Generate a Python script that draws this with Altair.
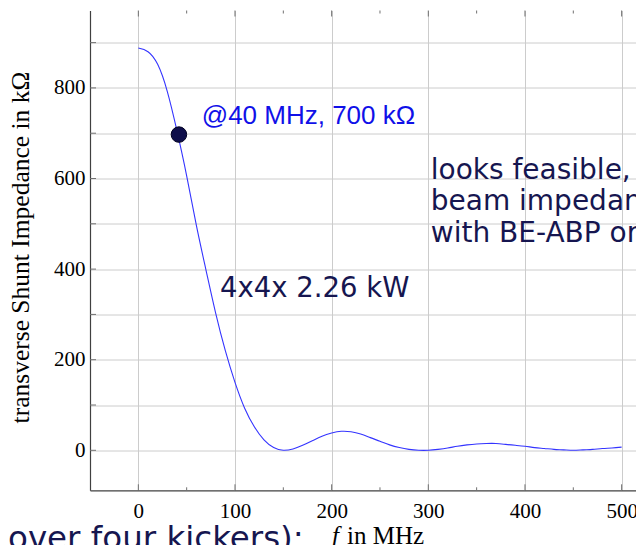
import altair as alt
import pandas as pd

# ---- data ----
freq_mhz = [0, 10, 20, 30, 40, 50, 60, 70, 80, 90, 100, 110, 120, 130, 140, 150,
            160, 170, 180, 190, 200, 210, 220, 230, 240, 250, 260, 270, 280, 290,
            300, 310, 320, 330, 340, 350, 360, 370, 380, 390, 400, 410, 420, 430,
            440, 450, 460, 470, 480, 490, 500]
shunt_kohm = [888, 880, 852, 792, 705, 606, 497, 398, 303, 220, 150, 93, 52, 23, 6, 0,
              3, 11, 21, 31, 38, 42, 41, 36, 28, 20, 12, 6, 2, 0,
              0, 2, 5, 9, 12, 14, 15, 15, 13, 11, 9, 6, 4, 2,
              1, 0, 1, 2, 4, 5, 7]

marker_f = [42]
marker_r = [697]

x_ticks = [0, 100, 200, 300, 400, 500]
x_minor = [50, 150, 250, 350, 450]
y_grid = [0, 100, 200, 300, 400, 500, 600, 700, 800, 900]

marker_label = "@40 MHz, 700 kΩ"
power_label = "4x4x 2.26 kW"
side_note = "looks feasible, to\nbeam impedance\nwith BE-ABP or"
bottom_note = "over four kickers):"
y_title = "transverse Shunt Impedance in kΩ"

# ---- layout ----
W, H = 546, 479.8
x_dom = [-50, -50 + W / 0.9666]
y_dom = [-88.3, 970.9]

xs = alt.Scale(domain=x_dom, nice=False, zero=False)
ys = alt.Scale(domain=y_dom, nice=False, zero=False)

serif = "Liberation Serif"
navy = "#161650"

curve_df = pd.DataFrame({"f": freq_mhz, "r": shunt_kohm})

line = alt.Chart(curve_df).mark_line(
    color="#3434ff", strokeWidth=1.1, interpolate="natural", clip=True
).encode(
    x=alt.X("f:Q", scale=xs, axis=alt.Axis(
        values=x_ticks, grid=True, ticks=False, tickSize=0, title=None,
        labelFont=serif, labelFontSize=21, labelColor="black", labelPadding=10,
        domainColor="#404040", domainWidth=1.2, gridColor="#cccccc", gridWidth=1)),
    y=alt.Y("r:Q", scale=ys, axis=alt.Axis(
        values=y_grid, grid=True, ticks=False, tickSize=0, title=None,
        labelExpr="datum.value % 200 === 0 ? datum.label : ''",
        labelFont=serif, labelFontSize=21, labelColor="black", labelPadding=5,
        domainColor="#404040", domainWidth=1.2, gridColor="#cccccc", gridWidth=1)),
)

marker = alt.Chart(pd.DataFrame({"f": marker_f, "r": marker_r})).mark_point(
    filled=True, size=240, color="#0e0e4a", stroke="#000020", strokeWidth=1, opacity=1
).encode(x=alt.X("f:Q", scale=xs), y=alt.Y("r:Q", scale=ys))

# inside tick marks
xt_df = pd.DataFrame({"f": x_ticks})
xm_df = pd.DataFrame({"f": x_minor})
yt_df = pd.DataFrame({"r": y_grid})
tick_color = "#707070"
xt_bottom = alt.Chart(xt_df).mark_rule(color=tick_color, strokeWidth=1).encode(
    x=alt.X("f:Q", scale=xs), y=alt.value(H), y2=alt.value(H - 6))
xt_top = alt.Chart(xt_df).mark_rule(color=tick_color, strokeWidth=1).encode(
    x=alt.X("f:Q", scale=xs), y=alt.value(0), y2=alt.value(6))
xm_bottom = alt.Chart(xm_df).mark_rule(color=tick_color, strokeWidth=1).encode(
    x=alt.X("f:Q", scale=xs), y=alt.value(H), y2=alt.value(H - 3))
xm_top = alt.Chart(xm_df).mark_rule(color=tick_color, strokeWidth=1).encode(
    x=alt.X("f:Q", scale=xs), y=alt.value(0), y2=alt.value(3))
yt_left = alt.Chart(yt_df).mark_rule(color=tick_color, strokeWidth=1).encode(
    y=alt.Y("r:Q", scale=ys), x=alt.value(0), x2=alt.value(6))

# annotations
ann1 = alt.Chart(pd.DataFrame({"f": [65.6], "r": [720], "t": [marker_label]})).mark_text(
    align="left", baseline="alphabetic", font="Liberation Sans", fontSize=26, color="#1010e8"
).encode(x=alt.X("f:Q", scale=xs), y=alt.Y("r:Q", scale=ys), text="t:N")

ann2 = alt.Chart(pd.DataFrame({"f": [84.5], "r": [338], "t": [power_label]})).mark_text(
    align="left", baseline="alphabetic", font="DejaVu Sans", fontSize=27.5, color=navy
).encode(x=alt.X("f:Q", scale=xs), y=alt.Y("r:Q", scale=ys), text="t:N")

ann3 = alt.Chart(pd.DataFrame({"f": [302.5], "r": [600], "t": [side_note]})).mark_text(
    align="left", baseline="alphabetic", font="DejaVu Sans", fontSize=28, color=navy,
    lineBreak="\n", lineHeight=31.5
).encode(x=alt.X("f:Q", scale=xs), y=alt.Y("r:Q", scale=ys), text="t:N")

# axis titles
ytitle = alt.Chart(pd.DataFrame({"t": [y_title]})).mark_text(
    angle=270, align="center", baseline="middle", font=serif, fontSize=25.5, color="black"
).encode(x=alt.value(-69), y=alt.value(237), text="t:N")

xtitle_f = alt.Chart(pd.DataFrame({"f": [200.4], "t": ["f"]})).mark_text(
    align="left", baseline="alphabetic", font=serif, fontSize=25, fontStyle="italic", color="black"
).encode(x=alt.X("f:Q", scale=xs), y=alt.value(533.5), text="t:N")
xtitle_rest = alt.Chart(pd.DataFrame({"f": [216], "t": ["in MHz"]})).mark_text(
    align="left", baseline="alphabetic", font=serif, fontSize=25, color="black"
).encode(x=alt.X("f:Q", scale=xs), y=alt.value(533.5), text="t:N")

bottom = alt.Chart(pd.DataFrame({"t": [bottom_note]})).mark_text(
    align="left", baseline="alphabetic", font="DejaVu Sans", fontSize=32.5, color=navy
).encode(x=alt.value(-82), y=alt.value(538.5), text="t:N")

chart = alt.layer(
    line, xt_bottom, xt_top, xm_bottom, xm_top, yt_left, marker,
    ann1, ann2, ann3, ytitle, xtitle_f, xtitle_rest, bottom
).properties(
    width=W, height=H,
    autosize=alt.AutoSizeParams(type="none"),
    padding={"left": 82, "top": 2.5, "right": 0, "bottom": 54.7},
    background="white",
).configure_view(strokeWidth=0)

chart.save("out.html", embed_options={"renderer": "svg", "actions": False})
